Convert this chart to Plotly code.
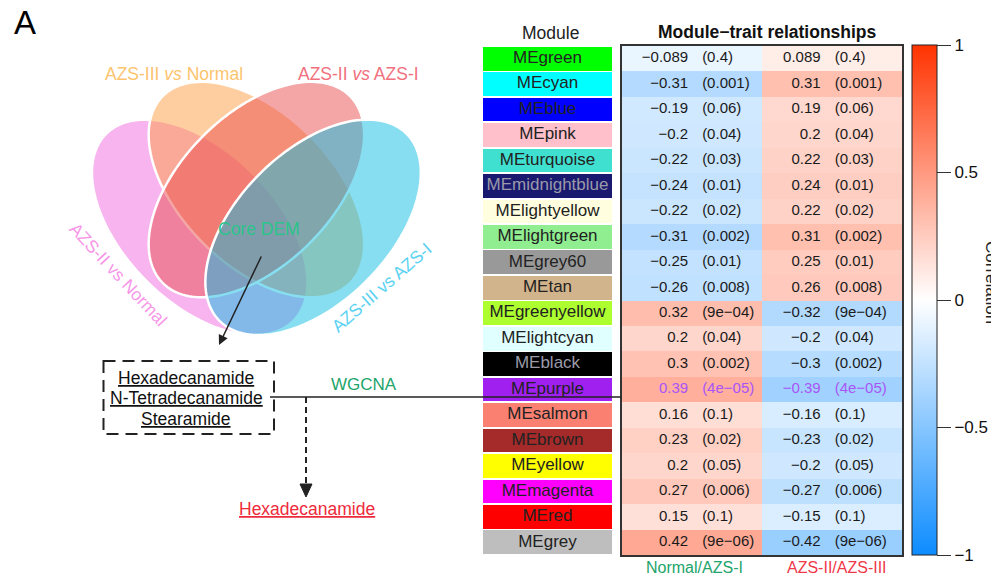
import numpy as np
import plotly.graph_objects as go

# ---------------- data ----------------
modules = ["MEgreen", "MEcyan", "MEblue", "MEpink", "MEturquoise", "MEmidnightblue",
           "MElightyellow", "MElightgreen", "MEgrey60", "MEtan", "MEgreenyellow",
           "MElightcyan", "MEblack", "MEpurple", "MEsalmon", "MEbrown", "MEyellow",
           "MEmagenta", "MEred", "MEgrey"]
module_colors = ["#00FF00", "#00FFFF", "#0000FF", "#FFC0CB", "#40E0D0", "#191970",
                 "#FFFFE0", "#90EE90", "#999999", "#D2B48C", "#ADFF2F", "#E0FFFF",
                 "#000000", "#A020F0", "#FA8072", "#A52A2A", "#FFFF00", "#FF00FF",
                 "#FF0000", "#BEBEBE"]
corr_normal_azs1 = [-0.089, -0.31, -0.19, -0.2, -0.22, -0.24, -0.22, -0.31, -0.25, -0.26,
                    0.32, 0.2, 0.3, 0.39, 0.16, 0.23, 0.2, 0.27, 0.15, 0.42]
corr_azs2_azs3 = [0.089, 0.31, 0.19, 0.2, 0.22, 0.24, 0.22, 0.31, 0.25, 0.26,
                  -0.32, -0.2, -0.3, -0.39, -0.16, -0.23, -0.2, -0.27, -0.15, -0.42]
pval_normal_azs1 = ["0.4", "0.001", "0.06", "0.04", "0.03", "0.01", "0.02", "0.002", "0.01",
                    "0.008", "9e−04", "0.04", "0.002", "4e−05", "0.1", "0.02", "0.05",
                    "0.006", "0.1", "9e−06"]
pval_azs2_azs3 = ["0.4", "0.001", "0.06", "0.04", "0.03", "0.01", "0.02", "0.002", "0.01",
                  "0.008", "9e−04", "0.04", "0.002", "4e−05", "0.1", "0.02", "0.05",
                  "0.006", "0.1", "9e−06"]
trait_labels = ["Normal/AZS-I", "AZS-II/AZS-III"]
trait_label_colors = ["#22A46A", "#F0384A"]
highlight_module = "MEpurple"
light_text_modules = ["MEmidnightblue", "MEblack"]
cbar_tickvals = [-1, -0.5, 0, 0.5, 1]
cbar_ticktext = ["−1", "−0.5", "0", "0.5", "1"]

venn_labels = ["AZS-II vs Normal", "AZS-III <i>vs</i> Normal", "AZS-II <i>vs</i> AZS-I", "AZS-III vs AZS-I"]
venn_fill = ["rgba(239,105,221,0.5)", "rgba(253,157,65,0.5)", "rgba(233,77,77,0.5)", "rgba(13,189,225,0.5)"]
venn_label_colors = ["#F796E8", "#FDC46F", "#F2707E", "#5CD2F2"]
core_label = "Core DEM"
core_compounds = ["Hexadecanamide", "N-Tetradecanamide", "Stearamide"]
wgcna_label = "WGCNA"
wgcna_hit = "Hexadecanamide"

# ---------------- figure ----------------
OFF = 8                      # page body margin
W, H = 999 - OFF, 579 - OFF  # figure size so that it fills the window
FONT = "Liberation Sans, Arial, sans-serif"


def fx(px):
    return (px - OFF) / W


def fy(py):
    return 1 - (py - OFF) / H


n = len(modules)
idx = list(range(n))
fig = go.Figure()

# heatmap
colorscale = [[0, "rgb(13,140,255)"], [0.5, "rgb(255,255,255)"], [1, "rgb(255,51,0)"]]
fig.add_trace(go.Heatmap(
    z=[[a, b] for a, b in zip(corr_normal_azs1, corr_azs2_azs3)],
    x=[0, 1], y=idx, zmin=-1, zmax=1, colorscale=colorscale,
    hoverinfo="skip", xaxis="x", yaxis="y",
    colorbar=dict(x=fx(912), xanchor="left", xpad=0, ypad=0,
                  y=fy(300), yanchor="middle", len=510, lenmode="pixels",
                  thickness=25, thicknessmode="pixels",
                  outlinewidth=1, outlinecolor="#222",
                  tickvals=cbar_tickvals, ticktext=cbar_ticktext,
                  ticks="outside", ticklen=14, tickcolor="#333", tickwidth=1,
                  tickfont=dict(size=17, family=FONT, color="#111")),
))

text_cols = ["#A855F7" if m == highlight_module else "#1a1a1a" for m in modules]
val_text = [str(v).replace("-", "−") for v in corr_normal_azs1 + corr_azs2_azs3]
p_text = ["(" + p + ")" for p in pval_normal_azs1 + pval_azs2_azs3]
fig.add_trace(go.Scatter(
    x=[-0.025] * n + [0.92] * n, y=idx + idx, mode="text", text=val_text,
    textposition="middle left", textfont=dict(size=15, family=FONT, color=text_cols + text_cols),
    hoverinfo="skip", xaxis="x", yaxis="y", marker=dict(size=0)))
fig.add_trace(go.Scatter(
    x=[0.075] * n + [1.02] * n, y=idx + idx, mode="text", text=p_text,
    textposition="middle right", textfont=dict(size=15, family=FONT, color=text_cols + text_cols),
    hoverinfo="skip", xaxis="x", yaxis="y", marker=dict(size=0)))

# module colour column
label_cols = ["#9a9aa8" if m in light_text_modules else "#222222" for m in modules]
fig.add_trace(go.Bar(
    x=[1] * n, y=idx, base=0, orientation="h", width=0.93,
    marker=dict(color=module_colors, line=dict(width=0)),
    hoverinfo="skip", xaxis="x2", yaxis="y2"))
fig.add_trace(go.Scatter(
    x=[0.5] * n, y=idx, mode="text", text=modules,
    textfont=dict(size=17, family=FONT, color=label_cols),
    hoverinfo="skip", xaxis="x2", yaxis="y2"))

# pixel canvas axis for the left-hand schematic
fig.add_trace(go.Scatter(x=[None], y=[None], xaxis="x3", yaxis="y3", showlegend=False))

hidden = dict(showticklabels=False, showgrid=False, zeroline=False, ticks="")
fig.update_layout(
    width=W, height=H, margin=dict(l=0, r=0, t=0, b=0),
    paper_bgcolor="white", plot_bgcolor="rgba(0,0,0,0)", showlegend=False,
    font=dict(family=FONT),
    xaxis=dict(domain=[fx(621.5), fx(902)], range=[-0.5, 1.5], anchor="y",
               showline=True, mirror=True, linecolor="#333", linewidth=1.5, **hidden),
    yaxis=dict(domain=[fy(555), fy(46)], range=[n - 0.5, -0.5], anchor="x",
               showline=True, mirror=True, linecolor="#333", linewidth=1.5, **hidden),
    xaxis2=dict(domain=[fx(483), fx(612)], range=[0, 1], anchor="y2", showline=False, **hidden),
    yaxis2=dict(domain=[fy(555), fy(46)], range=[n - 0.5, -0.5], anchor="x2", showline=False, **hidden),
    xaxis3=dict(domain=[0, 1], range=[OFF, OFF + W], anchor="y3", showline=False, **hidden),
    yaxis3=dict(domain=[0, 1], range=[OFF + H, OFF], anchor="x3", showline=False, **hidden),
    bargap=0,
)


# Venn ellipses (standard quad layout in unit square, mapped to pixels)
def ellipse_path(cx, cy, rot, a=0.35, b=0.2, m=160):
    t = np.linspace(0, 2 * np.pi, m)
    x, y = a * np.cos(t), b * np.sin(t)
    r = np.radians(rot)
    X = cx + x * np.cos(r) - y * np.sin(r)
    Y = cy + x * np.sin(r) + y * np.cos(r)
    px = 67.4 + 378 * X
    py = 405 - 378 * Y
    return "M " + " L ".join(f"{u:.2f},{v:.2f}" for u, v in zip(px, py)) + " Z"


venn_geom = [(0.35, 0.47, 135), (0.5, 0.57, 135), (0.5, 0.57, 45), (0.65, 0.47, 45)]
shapes = []
for (cx, cy, rot), fc in zip(venn_geom, venn_fill):
    shapes.append(dict(type="path", path=ellipse_path(cx, cy, rot), xref="x3", yref="y3",
                       fillcolor=fc, line=dict(color="white", width=2.5), layer="above"))

# dashed box
shapes.append(dict(type="rect", xref="x3", yref="y3", x0=103.5, x1=274, y0=361, y1=434,
                   line=dict(color="#222", width=2, dash="12px,7px")))
# WGCNA line
shapes.append(dict(type="line", xref="x3", yref="y3", x0=270, x1=621, y0=397, y1=397,
                   line=dict(color="#222", width=1.6)))
# dashed down arrow
shapes.append(dict(type="line", xref="x3", yref="y3", x0=306, x1=306, y0=397, y1=486,
                   line=dict(color="#222", width=2, dash="6px,4px")))
shapes.append(dict(type="path", xref="x3", yref="y3", path="M 300,484 L 312,484 L 306,497 Z",
                   fillcolor="#222", line=dict(color="#222", width=1)))
fig.update_layout(shapes=shapes)

ann = []


def txt(x, y, s, size, color, angle=0, under=False, bold=False):
    f = dict(size=size, color=color, family=FONT)
    if under:
        f["lineposition"] = "under"
    if bold:
        f["weight"] = "bold"
    ann.append(dict(x=x, y=y, xref="x3", yref="y3", text=s, showarrow=False,
                    font=f, textangle=angle, xanchor="center", yanchor="middle"))


txt(24.5, 22, "A", 33, "#000")
txt(118, 274, venn_labels[0], 17.5, venn_label_colors[0], angle=47)
txt(174, 74, venn_labels[1], 17.5, venn_label_colors[1])
txt(358, 74, venn_labels[2], 17.5, venn_label_colors[2])
txt(381, 288, venn_labels[3], 17.5, venn_label_colors[3], angle=-41)
txt(259, 229, core_label, 17.5, "#2BC48A")
for yy, s in zip([378, 398, 419], core_compounds):
    txt(186, yy, s, 17.5, "#111", under=True)
txt(364, 384, wgcna_label, 17, "#22A46A")
txt(306.5, 509, wgcna_hit, 17.5, "#EE2A3B", under=True)
txt(550, 33, "Module", 17.5, "#222")
txt(767, 32, "Module−trait relationships", 17.5, "#111", bold=True)
txt(992, 282, "Correlation", 17, "#222", angle=90)

# solid arrow from core DEM to box
ann.append(dict(x=219, y=345, ax=262, ay=255, xref="x3", yref="y3", axref="x3", ayref="y3",
                text="", showarrow=True, arrowhead=2, arrowsize=1.3, arrowwidth=1.5,
                arrowcolor="#222", standoff=0))

# trait labels under the heatmap
for i, (s, c) in enumerate(zip(trait_labels, trait_label_colors)):
    ann.append(dict(x=i, y=fy(567), xref="x", yref="paper", text=s, showarrow=False,
                    xshift=3 + 2 * i, font=dict(size=16, color=c, family=FONT),
                    xanchor="center", yanchor="middle"))

fig.update_layout(annotations=ann)
fig.write_html("out.html")
